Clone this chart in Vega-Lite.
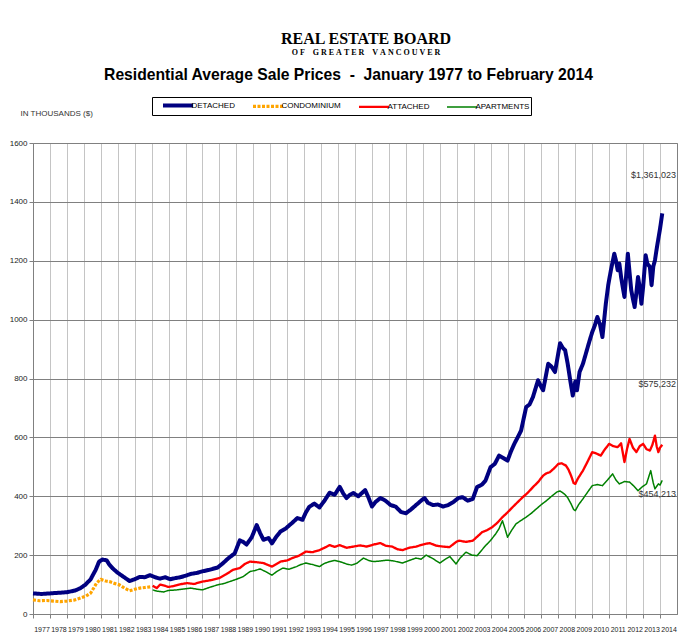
{
"$schema": "https://vega.github.io/schema/vega-lite/v6.json",
"width": 644, "height": 471,
"autosize": "none",
"padding": {"left": 33, "top": 143, "right": 13, "bottom": 26},
"background": "white",
"title": {"text": "REAL ESTATE BOARD", "subtitle": "O\u00a0F\u00a0\u00a0\u00a0\u00a0G\u00a0R\u00a0E\u00a0A\u00a0T\u00a0E\u00a0R\u00a0\u00a0\u00a0\u00a0V\u00a0A\u00a0N\u00a0C\u00a0O\u00a0U\u00a0V\u00a0E\u00a0R", "anchor": "middle", "frame": "group", "dx": 11, "offset": 9, "font": "Liberation Serif", "fontSize": 16, "fontWeight": "bold", "color": "#000", "subtitleFont": "Liberation Serif", "subtitleFontSize": 8, "subtitleFontWeight": "bold", "subtitleColor": "#000", "subtitlePadding": 2},
"datasets": {
"prices": [
{"series":"DETACHED","year":1977.0,"price":70},{"series":"DETACHED","year":1977.5,"price":68},{"series":"DETACHED","year":1978.0,"price":70},{"series":"DETACHED","year":1978.5,"price":72},{"series":"DETACHED","year":1979.0,"price":74},{"series":"DETACHED","year":1979.5,"price":80},{"series":"DETACHED","year":1979.8,"price":88},{"series":"DETACHED","year":1980.1,"price":100},{"series":"DETACHED","year":1980.4,"price":118},{"series":"DETACHED","year":1980.7,"price":150},{"series":"DETACHED","year":1980.9,"price":178},{"series":"DETACHED","year":1981.1,"price":185},{"series":"DETACHED","year":1981.35,"price":182},{"series":"DETACHED","year":1981.5,"price":168},{"series":"DETACHED","year":1981.7,"price":155},{"series":"DETACHED","year":1982.0,"price":140},{"series":"DETACHED","year":1982.3,"price":128},{"series":"DETACHED","year":1982.7,"price":112},{"series":"DETACHED","year":1983.0,"price":118},{"series":"DETACHED","year":1983.3,"price":126},{"series":"DETACHED","year":1983.6,"price":125},{"series":"DETACHED","year":1983.9,"price":132},{"series":"DETACHED","year":1984.2,"price":125},{"series":"DETACHED","year":1984.5,"price":120},{"series":"DETACHED","year":1984.8,"price":125},{"series":"DETACHED","year":1985.1,"price":118},{"series":"DETACHED","year":1985.4,"price":122},{"series":"DETACHED","year":1985.7,"price":125},{"series":"DETACHED","year":1986.0,"price":130},{"series":"DETACHED","year":1986.3,"price":136},{"series":"DETACHED","year":1986.7,"price":140},{"series":"DETACHED","year":1987.0,"price":145},{"series":"DETACHED","year":1987.4,"price":150},{"series":"DETACHED","year":1987.9,"price":158},{"series":"DETACHED","year":1988.2,"price":172},{"series":"DETACHED","year":1988.5,"price":188},{"series":"DETACHED","year":1988.9,"price":206},{"series":"DETACHED","year":1989.2,"price":250},{"series":"DETACHED","year":1989.4,"price":245},{"series":"DETACHED","year":1989.6,"price":236},{"series":"DETACHED","year":1989.9,"price":260},{"series":"DETACHED","year":1990.2,"price":302},{"series":"DETACHED","year":1990.4,"price":275},{"series":"DETACHED","year":1990.6,"price":252},{"series":"DETACHED","year":1990.9,"price":258},{"series":"DETACHED","year":1991.1,"price":240},{"series":"DETACHED","year":1991.35,"price":262},{"series":"DETACHED","year":1991.6,"price":280},{"series":"DETACHED","year":1991.9,"price":290},{"series":"DETACHED","year":1992.3,"price":310},{"series":"DETACHED","year":1992.6,"price":326},{"series":"DETACHED","year":1992.9,"price":320},{"series":"DETACHED","year":1993.1,"price":345},{"series":"DETACHED","year":1993.3,"price":364},{"series":"DETACHED","year":1993.6,"price":375},{"series":"DETACHED","year":1993.9,"price":362},{"series":"DETACHED","year":1994.2,"price":385},{"series":"DETACHED","year":1994.5,"price":412},{"series":"DETACHED","year":1994.8,"price":405},{"series":"DETACHED","year":1995.1,"price":432},{"series":"DETACHED","year":1995.3,"price":410},{"series":"DETACHED","year":1995.5,"price":394},{"series":"DETACHED","year":1995.7,"price":405},{"series":"DETACHED","year":1995.9,"price":411},{"series":"DETACHED","year":1996.2,"price":400},{"series":"DETACHED","year":1996.6,"price":421},{"series":"DETACHED","year":1996.8,"price":395},{"series":"DETACHED","year":1997.0,"price":365},{"series":"DETACHED","year":1997.2,"price":380},{"series":"DETACHED","year":1997.5,"price":394},{"series":"DETACHED","year":1997.8,"price":385},{"series":"DETACHED","year":1998.1,"price":370},{"series":"DETACHED","year":1998.4,"price":365},{"series":"DETACHED","year":1998.7,"price":347},{"series":"DETACHED","year":1999.0,"price":342},{"series":"DETACHED","year":1999.3,"price":355},{"series":"DETACHED","year":1999.6,"price":370},{"series":"DETACHED","year":1999.9,"price":385},{"series":"DETACHED","year":2000.1,"price":394},{"series":"DETACHED","year":2000.3,"price":378},{"series":"DETACHED","year":2000.6,"price":370},{"series":"DETACHED","year":2000.9,"price":372},{"series":"DETACHED","year":2001.2,"price":365},{"series":"DETACHED","year":2001.5,"price":370},{"series":"DETACHED","year":2001.8,"price":380},{"series":"DETACHED","year":2002.1,"price":394},{"series":"DETACHED","year":2002.35,"price":397},{"series":"DETACHED","year":2002.65,"price":385},{"series":"DETACHED","year":2002.95,"price":391},{"series":"DETACHED","year":2003.2,"price":431},{"series":"DETACHED","year":2003.5,"price":440},{"series":"DETACHED","year":2003.7,"price":453},{"series":"DETACHED","year":2004.0,"price":499},{"series":"DETACHED","year":2004.25,"price":510},{"series":"DETACHED","year":2004.5,"price":538},{"series":"DETACHED","year":2004.75,"price":530},{"series":"DETACHED","year":2005.0,"price":521},{"series":"DETACHED","year":2005.2,"price":552},{"series":"DETACHED","year":2005.4,"price":578},{"series":"DETACHED","year":2005.6,"price":600},{"series":"DETACHED","year":2005.8,"price":623},{"series":"DETACHED","year":2006.1,"price":703},{"series":"DETACHED","year":2006.3,"price":712},{"series":"DETACHED","year":2006.5,"price":737},{"series":"DETACHED","year":2006.8,"price":794},{"series":"DETACHED","year":2007.0,"price":770},{"series":"DETACHED","year":2007.1,"price":760},{"series":"DETACHED","year":2007.4,"price":850},{"series":"DETACHED","year":2007.6,"price":840},{"series":"DETACHED","year":2007.8,"price":822},{"series":"DETACHED","year":2008.1,"price":920},{"series":"DETACHED","year":2008.25,"price":905},{"series":"DETACHED","year":2008.4,"price":896},{"series":"DETACHED","year":2008.55,"price":850},{"series":"DETACHED","year":2008.7,"price":794},{"series":"DETACHED","year":2008.85,"price":742},{"series":"DETACHED","year":2009.0,"price":790},{"series":"DETACHED","year":2009.1,"price":760},{"series":"DETACHED","year":2009.25,"price":822},{"series":"DETACHED","year":2009.45,"price":850},{"series":"DETACHED","year":2009.65,"price":890},{"series":"DETACHED","year":2009.85,"price":930},{"series":"DETACHED","year":2010.0,"price":958},{"series":"DETACHED","year":2010.15,"price":980},{"series":"DETACHED","year":2010.3,"price":1009},{"series":"DETACHED","year":2010.45,"price":985},{"series":"DETACHED","year":2010.6,"price":941},{"series":"DETACHED","year":2010.8,"price":1054},{"series":"DETACHED","year":2010.95,"price":1120},{"series":"DETACHED","year":2011.1,"price":1168},{"series":"DETACHED","year":2011.3,"price":1224},{"series":"DETACHED","year":2011.4,"price":1200},{"series":"DETACHED","year":2011.5,"price":1168},{"series":"DETACHED","year":2011.6,"price":1190},{"series":"DETACHED","year":2011.7,"price":1145},{"series":"DETACHED","year":2011.8,"price":1110},{"series":"DETACHED","year":2011.9,"price":1077},{"series":"DETACHED","year":2012.0,"price":1150},{"series":"DETACHED","year":2012.1,"price":1224},{"series":"DETACHED","year":2012.2,"price":1160},{"series":"DETACHED","year":2012.3,"price":1100},{"series":"DETACHED","year":2012.4,"price":1070},{"series":"DETACHED","year":2012.5,"price":1043},{"series":"DETACHED","year":2012.6,"price":1090},{"series":"DETACHED","year":2012.7,"price":1145},{"series":"DETACHED","year":2012.8,"price":1110},{"series":"DETACHED","year":2012.9,"price":1054},{"series":"DETACHED","year":2013.0,"price":1110},{"series":"DETACHED","year":2013.15,"price":1219},{"series":"DETACHED","year":2013.25,"price":1190},{"series":"DETACHED","year":2013.4,"price":1179},{"series":"DETACHED","year":2013.5,"price":1117},{"series":"DETACHED","year":2013.6,"price":1180},{"series":"DETACHED","year":2013.7,"price":1202},{"series":"DETACHED","year":2013.8,"price":1240},{"series":"DETACHED","year":2013.9,"price":1275},{"series":"DETACHED","year":2014.0,"price":1309},{"series":"DETACHED","year":2014.13,"price":1361},
{"series":"CONDOMINIUM","year":1977.0,"price":48},{"series":"CONDOMINIUM","year":1977.4,"price":45},{"series":"CONDOMINIUM","year":1977.8,"price":46},{"series":"CONDOMINIUM","year":1978.2,"price":44},{"series":"CONDOMINIUM","year":1978.6,"price":42},{"series":"CONDOMINIUM","year":1979.0,"price":44},{"series":"CONDOMINIUM","year":1979.4,"price":47},{"series":"CONDOMINIUM","year":1979.8,"price":54},{"series":"CONDOMINIUM","year":1980.1,"price":60},{"series":"CONDOMINIUM","year":1980.4,"price":71},{"series":"CONDOMINIUM","year":1980.6,"price":90},{"series":"CONDOMINIUM","year":1980.75,"price":105},{"series":"CONDOMINIUM","year":1981.0,"price":118},{"series":"CONDOMINIUM","year":1981.15,"price":115},{"series":"CONDOMINIUM","year":1981.3,"price":112},{"series":"CONDOMINIUM","year":1981.5,"price":110},{"series":"CONDOMINIUM","year":1981.8,"price":104},{"series":"CONDOMINIUM","year":1982.1,"price":99},{"series":"CONDOMINIUM","year":1982.4,"price":88},{"series":"CONDOMINIUM","year":1982.7,"price":79},{"series":"CONDOMINIUM","year":1983.0,"price":84},{"series":"CONDOMINIUM","year":1983.3,"price":88},{"series":"CONDOMINIUM","year":1983.6,"price":90},{"series":"CONDOMINIUM","year":1984.0,"price":93},
{"series":"ATTACHED","year":1984.06,"price":96},{"series":"ATTACHED","year":1984.3,"price":88},{"series":"ATTACHED","year":1984.5,"price":100},{"series":"ATTACHED","year":1984.7,"price":97},{"series":"ATTACHED","year":1985.0,"price":92},{"series":"ATTACHED","year":1985.3,"price":95},{"series":"ATTACHED","year":1985.6,"price":100},{"series":"ATTACHED","year":1986.1,"price":105},{"series":"ATTACHED","year":1986.5,"price":102},{"series":"ATTACHED","year":1987.0,"price":110},{"series":"ATTACHED","year":1987.5,"price":115},{"series":"ATTACHED","year":1988.0,"price":122},{"series":"ATTACHED","year":1988.4,"price":135},{"series":"ATTACHED","year":1988.8,"price":150},{"series":"ATTACHED","year":1989.2,"price":156},{"series":"ATTACHED","year":1989.5,"price":170},{"series":"ATTACHED","year":1989.8,"price":178},{"series":"ATTACHED","year":1990.2,"price":176},{"series":"ATTACHED","year":1990.6,"price":173},{"series":"ATTACHED","year":1991.1,"price":161},{"series":"ATTACHED","year":1991.6,"price":178},{"series":"ATTACHED","year":1992.0,"price":182},{"series":"ATTACHED","year":1992.3,"price":190},{"series":"ATTACHED","year":1992.7,"price":198},{"series":"ATTACHED","year":1993.1,"price":212},{"series":"ATTACHED","year":1993.5,"price":210},{"series":"ATTACHED","year":1993.9,"price":217},{"series":"ATTACHED","year":1994.2,"price":225},{"series":"ATTACHED","year":1994.5,"price":234},{"series":"ATTACHED","year":1994.8,"price":228},{"series":"ATTACHED","year":1995.1,"price":234},{"series":"ATTACHED","year":1995.5,"price":225},{"series":"ATTACHED","year":1995.9,"price":229},{"series":"ATTACHED","year":1996.3,"price":233},{"series":"ATTACHED","year":1996.7,"price":229},{"series":"ATTACHED","year":1997.1,"price":236},{"series":"ATTACHED","year":1997.5,"price":241},{"series":"ATTACHED","year":1997.8,"price":232},{"series":"ATTACHED","year":1998.2,"price":229},{"series":"ATTACHED","year":1998.5,"price":220},{"series":"ATTACHED","year":1998.8,"price":217},{"series":"ATTACHED","year":1999.2,"price":225},{"series":"ATTACHED","year":1999.6,"price":229},{"series":"ATTACHED","year":2000.0,"price":236},{"series":"ATTACHED","year":2000.4,"price":241},{"series":"ATTACHED","year":2000.8,"price":232},{"series":"ATTACHED","year":2001.2,"price":229},{"series":"ATTACHED","year":2001.57,"price":227},{"series":"ATTACHED","year":2002.0,"price":246},{"series":"ATTACHED","year":2002.15,"price":249},{"series":"ATTACHED","year":2002.55,"price":245},{"series":"ATTACHED","year":2002.95,"price":249},{"series":"ATTACHED","year":2003.2,"price":262},{"series":"ATTACHED","year":2003.5,"price":278},{"series":"ATTACHED","year":2003.8,"price":285},{"series":"ATTACHED","year":2004.1,"price":295},{"series":"ATTACHED","year":2004.4,"price":310},{"series":"ATTACHED","year":2004.7,"price":329},{"series":"ATTACHED","year":2005.0,"price":345},{"series":"ATTACHED","year":2005.3,"price":363},{"series":"ATTACHED","year":2005.6,"price":380},{"series":"ATTACHED","year":2005.9,"price":397},{"series":"ATTACHED","year":2006.2,"price":412},{"series":"ATTACHED","year":2006.5,"price":431},{"series":"ATTACHED","year":2006.8,"price":448},{"series":"ATTACHED","year":2007.1,"price":470},{"series":"ATTACHED","year":2007.3,"price":478},{"series":"ATTACHED","year":2007.5,"price":482},{"series":"ATTACHED","year":2007.75,"price":495},{"series":"ATTACHED","year":2008.0,"price":510},{"series":"ATTACHED","year":2008.2,"price":512},{"series":"ATTACHED","year":2008.45,"price":504},{"series":"ATTACHED","year":2008.6,"price":490},{"series":"ATTACHED","year":2008.75,"price":470},{"series":"ATTACHED","year":2008.9,"price":445},{"series":"ATTACHED","year":2009.0,"price":442},{"series":"ATTACHED","year":2009.15,"price":460},{"series":"ATTACHED","year":2009.45,"price":487},{"series":"ATTACHED","year":2009.7,"price":515},{"series":"ATTACHED","year":2010.0,"price":550},{"series":"ATTACHED","year":2010.25,"price":545},{"series":"ATTACHED","year":2010.5,"price":538},{"series":"ATTACHED","year":2010.75,"price":560},{"series":"ATTACHED","year":2011.0,"price":578},{"series":"ATTACHED","year":2011.25,"price":570},{"series":"ATTACHED","year":2011.5,"price":567},{"series":"ATTACHED","year":2011.7,"price":580},{"series":"ATTACHED","year":2011.9,"price":516},{"series":"ATTACHED","year":2012.05,"price":560},{"series":"ATTACHED","year":2012.2,"price":595},{"series":"ATTACHED","year":2012.4,"price":565},{"series":"ATTACHED","year":2012.6,"price":550},{"series":"ATTACHED","year":2012.8,"price":570},{"series":"ATTACHED","year":2013.0,"price":578},{"series":"ATTACHED","year":2013.2,"price":560},{"series":"ATTACHED","year":2013.4,"price":555},{"series":"ATTACHED","year":2013.55,"price":575},{"series":"ATTACHED","year":2013.7,"price":606},{"series":"ATTACHED","year":2013.8,"price":570},{"series":"ATTACHED","year":2013.9,"price":550},{"series":"ATTACHED","year":2014.0,"price":565},{"series":"ATTACHED","year":2014.13,"price":575},
{"series":"APARTMENTS","year":1984.06,"price":82},{"series":"APARTMENTS","year":1984.3,"price":78},{"series":"APARTMENTS","year":1984.7,"price":75},{"series":"APARTMENTS","year":1985.0,"price":80},{"series":"APARTMENTS","year":1985.5,"price":82},{"series":"APARTMENTS","year":1985.9,"price":85},{"series":"APARTMENTS","year":1986.3,"price":88},{"series":"APARTMENTS","year":1986.7,"price":84},{"series":"APARTMENTS","year":1987.0,"price":82},{"series":"APARTMENTS","year":1987.5,"price":92},{"series":"APARTMENTS","year":1987.9,"price":99},{"series":"APARTMENTS","year":1988.3,"price":104},{"series":"APARTMENTS","year":1988.6,"price":110},{"series":"APARTMENTS","year":1989.0,"price":118},{"series":"APARTMENTS","year":1989.4,"price":127},{"series":"APARTMENTS","year":1989.8,"price":144},{"series":"APARTMENTS","year":1990.1,"price":148},{"series":"APARTMENTS","year":1990.4,"price":153},{"series":"APARTMENTS","year":1990.8,"price":142},{"series":"APARTMENTS","year":1991.1,"price":132},{"series":"APARTMENTS","year":1991.4,"price":145},{"series":"APARTMENTS","year":1991.75,"price":156},{"series":"APARTMENTS","year":1992.1,"price":152},{"series":"APARTMENTS","year":1992.55,"price":161},{"series":"APARTMENTS","year":1992.8,"price":168},{"series":"APARTMENTS","year":1993.1,"price":173},{"series":"APARTMENTS","year":1993.5,"price":168},{"series":"APARTMENTS","year":1993.9,"price":161},{"series":"APARTMENTS","year":1994.2,"price":172},{"series":"APARTMENTS","year":1994.5,"price":178},{"series":"APARTMENTS","year":1994.8,"price":182},{"series":"APARTMENTS","year":1995.1,"price":178},{"series":"APARTMENTS","year":1995.5,"price":170},{"series":"APARTMENTS","year":1995.8,"price":166},{"series":"APARTMENTS","year":1996.1,"price":172},{"series":"APARTMENTS","year":1996.5,"price":190},{"series":"APARTMENTS","year":1996.8,"price":182},{"series":"APARTMENTS","year":1997.1,"price":178},{"series":"APARTMENTS","year":1997.5,"price":180},{"series":"APARTMENTS","year":1997.9,"price":183},{"series":"APARTMENTS","year":1998.3,"price":180},{"series":"APARTMENTS","year":1998.8,"price":173},{"series":"APARTMENTS","year":1999.2,"price":182},{"series":"APARTMENTS","year":1999.6,"price":190},{"series":"APARTMENTS","year":1999.9,"price":186},{"series":"APARTMENTS","year":2000.2,"price":200},{"series":"APARTMENTS","year":2000.6,"price":188},{"series":"APARTMENTS","year":2001.0,"price":173},{"series":"APARTMENTS","year":2001.3,"price":185},{"series":"APARTMENTS","year":2001.6,"price":195},{"series":"APARTMENTS","year":2001.96,"price":170},{"series":"APARTMENTS","year":2002.2,"price":190},{"series":"APARTMENTS","year":2002.55,"price":210},{"series":"APARTMENTS","year":2002.9,"price":200},{"series":"APARTMENTS","year":2003.2,"price":198},{"series":"APARTMENTS","year":2003.45,"price":215},{"series":"APARTMENTS","year":2003.7,"price":232},{"series":"APARTMENTS","year":2004.0,"price":250},{"series":"APARTMENTS","year":2004.3,"price":272},{"series":"APARTMENTS","year":2004.5,"price":290},{"series":"APARTMENTS","year":2004.7,"price":317},{"series":"APARTMENTS","year":2004.85,"price":290},{"series":"APARTMENTS","year":2005.0,"price":261},{"series":"APARTMENTS","year":2005.25,"price":285},{"series":"APARTMENTS","year":2005.5,"price":306},{"series":"APARTMENTS","year":2005.8,"price":318},{"series":"APARTMENTS","year":2006.1,"price":329},{"series":"APARTMENTS","year":2006.4,"price":342},{"series":"APARTMENTS","year":2006.7,"price":357},{"series":"APARTMENTS","year":2007.0,"price":372},{"series":"APARTMENTS","year":2007.3,"price":385},{"series":"APARTMENTS","year":2007.6,"price":400},{"series":"APARTMENTS","year":2007.9,"price":414},{"series":"APARTMENTS","year":2008.1,"price":418},{"series":"APARTMENTS","year":2008.35,"price":408},{"series":"APARTMENTS","year":2008.55,"price":395},{"series":"APARTMENTS","year":2008.75,"price":374},{"series":"APARTMENTS","year":2008.9,"price":355},{"series":"APARTMENTS","year":2009.0,"price":351},{"series":"APARTMENTS","year":2009.2,"price":372},{"series":"APARTMENTS","year":2009.45,"price":391},{"series":"APARTMENTS","year":2009.7,"price":412},{"series":"APARTMENTS","year":2010.0,"price":436},{"series":"APARTMENTS","year":2010.3,"price":440},{"series":"APARTMENTS","year":2010.6,"price":436},{"series":"APARTMENTS","year":2010.9,"price":455},{"series":"APARTMENTS","year":2011.2,"price":476},{"series":"APARTMENTS","year":2011.4,"price":455},{"series":"APARTMENTS","year":2011.6,"price":442},{"series":"APARTMENTS","year":2011.9,"price":450},{"series":"APARTMENTS","year":2012.2,"price":448},{"series":"APARTMENTS","year":2012.45,"price":435},{"series":"APARTMENTS","year":2012.7,"price":419},{"series":"APARTMENTS","year":2012.95,"price":432},{"series":"APARTMENTS","year":2013.2,"price":442},{"series":"APARTMENTS","year":2013.45,"price":487},{"series":"APARTMENTS","year":2013.6,"price":445},{"series":"APARTMENTS","year":2013.7,"price":425},{"series":"APARTMENTS","year":2013.9,"price":442},{"series":"APARTMENTS","year":2014.0,"price":438},{"series":"APARTMENTS","year":2014.13,"price":454}
],
"labels": [
{"label":"$1,361,023","year":2015,"price":1491},
{"label":"$575,232","year":2015,"price":781},
{"label":"$454,213","year":2015,"price":408}
]
},
"resolve": {"axis": {"x": "independent"}},
"layer": [
{
"data": {"name": "prices"},
"mark": {"type": "line", "strokeJoin": "round", "strokeCap": "butt"},
"encoding": {
"x": {"field": "year", "type": "quantitative",
 "scale": {"domain": [1977, 2015], "nice": false, "zero": false},
 "axis": {"values": [1977,1978,1979,1980,1981,1982,1983,1984,1985,1986,1987,1988,1989,1990,1991,1992,1993,1994,1995,1996,1997,1998,1999,2000,2001,2002,2003,2004,2005,2006,2007,2008,2009,2010,2011,2012,2013,2014],
  "format": "d", "labelOffset": 8.5, "labelOverlap": false, "labelFlush": false, "labelFont": "Liberation Sans", "labelFontSize": 7, "labelColor": "#222", "labelPadding": 7,
  "grid": true, "gridColor": "#c4c4c4", "gridWidth": 1, "tickSize": 4, "tickColor": "#808080", "domainColor": "#808080", "title": null}},
"y": {"field": "price", "type": "quantitative",
 "scale": {"domain": [0, 1600], "nice": false},
 "axis": {"values": [0,200,400,600,800,1000,1200,1400,1600], "format": "d", "labelFont": "Liberation Sans", "labelFontSize": 8, "labelColor": "#222", "labelPadding": 2, "tickSize": 4, "tickColor": "#808080", "domainColor": "#808080",
  "grid": true, "gridColor": "#808080", "gridWidth": 1,
  "title": "IN THOUSANDS ($)", "titleAngle": 0, "titleX": -13, "titleY": -28, "titleAlign": "left", "titleBaseline": "alphabetic", "titleFont": "Liberation Sans", "titleFontSize": 8, "titleFontWeight": "normal", "titleColor": "#333"}},
"stroke": {"field": "series", "type": "nominal",
 "scale": {"domain": ["DETACHED","CONDOMINIUM","ATTACHED","APARTMENTS"], "range": ["#000080","#FFA500","#FF0000","#008000"]},
 "legend": {"orient": "none", "legendX": 119, "legendY": -46, "direction": "horizontal", "columns": 4, "title": null, "fillColor": "white", "strokeColor": "#000", "padding": 1.5, "columnPadding": 8, "labelFont": "Liberation Sans", "labelFontSize": 8, "labelColor": "#000", "labelOffset": 24, "symbolType": "M0.5,0H6.5", "symbolSize": 100}},
"strokeWidth": {"field": "series", "type": "nominal",
 "scale": {"domain": ["DETACHED","CONDOMINIUM","ATTACHED","APARTMENTS"], "range": [4, 1.5, 3, 1.5]},
 "legend": {"orient": "none", "legendX": 119, "legendY": -46, "direction": "horizontal", "columns": 4, "title": null}},
"strokeDash": {"field": "series", "type": "nominal",
 "scale": {"domain": ["DETACHED","CONDOMINIUM","ATTACHED","APARTMENTS"], "range": [[1,0],[3,1.5],[1,0],[1,0]]},
 "legend": {"orient": "none", "legendX": 119, "legendY": -46, "direction": "horizontal", "columns": 4, "title": null}}
}
},
{
"data": {"name": "labels"},
"mark": {"type": "text", "align": "right", "baseline": "middle", "dx": -1, "font": "Liberation Sans", "fontSize": 9, "color": "#333"},
"encoding": {
"x": {"field": "year", "type": "quantitative",
 "axis": {"orient": "top", "labels": false, "ticks": false, "domain": false, "grid": false,
  "title": "Residential Average Sale Prices \u00a0-\u00a0 January 1977 to February 2014", "titleX": 315, "titleY": -64, "titleAlign": "center", "titleBaseline": "alphabetic", "titleFont": "Liberation Sans", "titleFontSize": 15.7, "titleFontWeight": "bold", "titleColor": "#000"}},
"y": {"field": "price", "type": "quantitative"},
"text": {"field": "label", "type": "nominal"}
}
}
],
"config": {"view": {"stroke": "#808080"}}
}
